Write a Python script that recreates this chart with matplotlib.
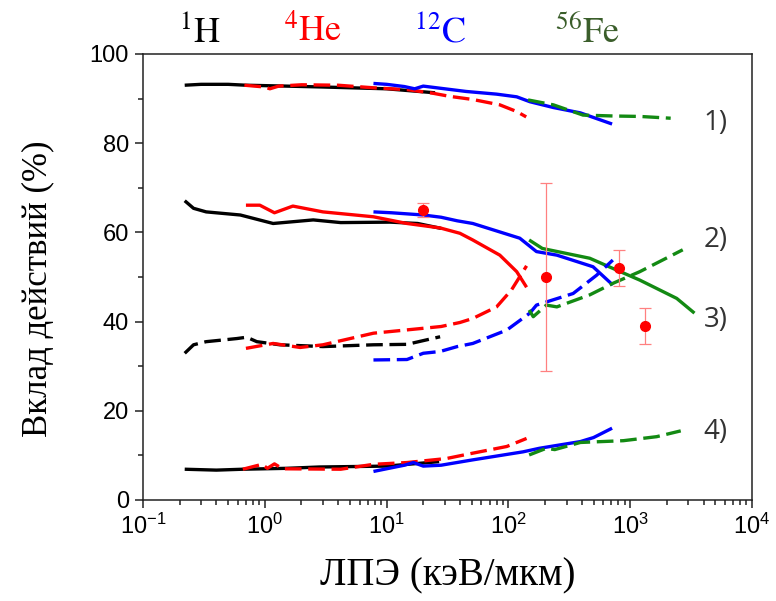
import matplotlib
matplotlib.use("Agg")
import matplotlib.pyplot as plt
from matplotlib.ticker import MultipleLocator, LogLocator, NullFormatter

plt.rcParams['font.family'] = ['Liberation Sans', 'DejaVu Sans']
plt.rcParams['mathtext.fontset'] = 'custom'
plt.rcParams['mathtext.rm'] = 'Liberation Sans'
plt.rcParams['mathtext.it'] = 'Liberation Sans:italic'
plt.rcParams['mathtext.bf'] = 'Liberation Sans:bold'

# ---- data (LET in keV/um, contribution in %) ----
# 1) curves
h1_x = [0.22, 0.3, 0.5, 0.7, 1.5, 3, 10, 25]
h1_y = [93.0, 93.2, 93.2, 93.0, 92.8, 92.6, 92.2, 91.3]
he1_x = [0.68, 1.0, 1.1, 1.3, 2, 4, 8, 15, 24, 33, 51, 85, 117, 140]
he1_y = [93.0, 92.6, 92.2, 92.8, 93.1, 93.0, 92.4, 92.0, 91.2, 90.5, 89.8, 88.6, 87.1, 85.9]
c1_x = [7.8, 10, 14, 17, 20, 28, 45, 80, 117, 150, 234, 390, 710]
c1_y = [93.4, 93.2, 92.7, 92.2, 92.8, 92.3, 91.6, 91.0, 90.4, 89.3, 88.0, 86.8, 84.3]
fe1_x = [145, 234, 410, 730, 1200, 2150]
fe1_y = [89.7, 88.6, 86.3, 86.1, 86.0, 85.6]

# 2) curves
h2_x = [0.22, 0.26, 0.33, 0.63, 1.17, 2.5, 4.2, 10.7, 18, 28]
h2_y = [67.1, 65.4, 64.6, 63.9, 62.0, 62.8, 62.2, 62.3, 62.0, 60.9]
he2_x = [0.70, 0.91, 1.2, 1.7, 3.0, 7.8, 14.7, 27.5, 40, 51, 85, 117, 141]
he2_y = [66.1, 66.1, 64.4, 65.9, 64.6, 63.5, 62.0, 61.0, 59.8, 58.3, 54.9, 51.2, 47.7]
c2_x = [7.8, 11, 20, 28, 38, 51, 124, 170, 250, 495, 720]
c2_y = [64.6, 64.4, 63.9, 63.4, 62.6, 62.0, 58.7, 55.7, 54.9, 52.3, 48.2]
fe2_x = [148, 190, 466, 724, 1200, 2410, 3370]
fe2_y = [58.3, 56.4, 54.2, 51.9, 49.3, 45.2, 41.9]

# 3) curves
h3_x = [0.22, 0.26, 0.33, 0.59, 0.71, 0.86, 1.33, 3.0, 7.8, 14.7, 27.5]
h3_y = [32.9, 34.8, 35.5, 36.2, 36.5, 35.5, 34.8, 34.4, 34.8, 34.9, 36.6]
he3_x = [0.70, 1.17, 1.95, 3.0, 7.8, 20, 28, 40, 51, 80, 106, 141]
he3_y = [34.0, 35.1, 34.2, 34.8, 37.4, 38.5, 38.9, 39.8, 40.7, 43.3, 47.1, 52.5]
c3_x = [7.8, 14.7, 20, 27.5, 38, 51, 97, 150, 170, 340, 530, 720]
c3_y = [31.4, 31.5, 32.9, 33.3, 34.4, 35.1, 38.1, 41.9, 43.7, 46.3, 50.4, 53.8]
fe3_x = [148, 160, 205, 250, 466, 724, 1200, 2700]
fe3_y = [42.6, 41.1, 43.7, 43.3, 46.0, 48.6, 51.2, 56.1]

# 4) curves
h4_x = [0.22, 0.4, 0.66, 1.5, 2.8, 10, 27]
h4_y = [6.9, 6.7, 6.9, 7.1, 7.4, 7.6, 8.6]
he4_x = [0.66, 0.95, 1.05, 1.2, 1.4, 4.2, 7.8, 14.7, 31, 51, 97, 141]
he4_y = [6.9, 8.0, 7.1, 8.1, 7.0, 6.9, 8.0, 8.4, 9.3, 10.5, 12.0, 13.8]
c4_x = [7.8, 10, 14, 16.6, 20, 28, 51, 132, 180, 390, 500, 710]
c4_y = [6.4, 7.0, 7.8, 8.4, 7.6, 7.8, 9.0, 10.8, 11.6, 13.1, 14.0, 16.1]
fe4_x = [148, 205, 240, 390, 880, 1650, 2600]
fe4_y = [10.1, 11.6, 11.3, 12.9, 13.3, 14.2, 15.5]

# experimental points
exp_x = [20, 203, 815, 1320]
exp_y = [65.0, 50.0, 52.0, 39.0]
exp_err = [1.6, 21.0, 4.0, 4.0]

ion_labels = [r'$^{1}\mathrm{H}$', r'$^{4}\mathrm{He}$', r'$^{12}\mathrm{C}$', r'$^{56}\mathrm{Fe}$']
ion_label_x = [200, 313, 440, 587]
ion_colors = ['black', '#ff0000', '#0000ff', '#3b5e2b']
group_labels = ['1)', '2)', '3)', '4)']
group_label_y = [84.5, 58.3, 40.4, 15.2]

# ---- figure ----
fig = plt.figure(figsize=(7.76, 6.01), dpi=100)
ax = fig.add_axes([143/776, 1-500/601, (752-143)/776, (500-54)/601])

K, R, B, G = 'black', '#ff0000', '#0000ff', '#138a13'
lw = 2.4
dash = (5, 2)

def solid(x, y, c):
    ax.plot(x, y, color=c, lw=lw, solid_capstyle='butt')

def dashed(x, y, c):
    ax.plot(x, y, color=c, lw=lw, linestyle=(0, dash), dash_capstyle='butt')

# group 1
solid(h1_x, h1_y, K)
dashed(he1_x, he1_y, R)
solid(c1_x, c1_y, B)
dashed(fe1_x, fe1_y, G)
# group 2
solid(h2_x, h2_y, K)
solid(he2_x, he2_y, R)
solid(c2_x, c2_y, B)
solid(fe2_x, fe2_y, G)
# group 3
dashed(h3_x, h3_y, K)
dashed(he3_x, he3_y, R)
dashed(c3_x, c3_y, B)
dashed(fe3_x, fe3_y, G)
# group 4
solid(h4_x, h4_y, K)
dashed(he4_x, he4_y, R)
solid(c4_x, c4_y, B)
dashed(fe4_x, fe4_y, G)

ax.errorbar(exp_x, exp_y, yerr=exp_err, fmt='o', color=R, markersize=7,
            ecolor='#ff8080', elinewidth=0.9, capsize=4, capthick=0.9, zorder=5)

ax.set_xscale('log')
ax.set_xlim(0.1, 1e4)
ax.set_ylim(0, 100)
ax.yaxis.set_major_locator(MultipleLocator(20))
ax.yaxis.set_minor_locator(MultipleLocator(10))
ax.xaxis.set_major_locator(LogLocator(base=10, numticks=10))
ax.xaxis.set_minor_locator(LogLocator(base=10, subs=range(2, 10), numticks=20))
ax.xaxis.set_minor_formatter(NullFormatter())

for s in ax.spines.values():
    s.set_linewidth(1.1)
    s.set_color('#222222')
ax.tick_params(which='both', direction='out', top=False, right=False, color='#222222', width=1.1)
ax.tick_params(which='major', length=6, labelsize=17, pad=4)
ax.tick_params(which='minor', length=3.5)

ax.set_ylabel('Вклад действий (%)', family=['Liberation Serif', 'DejaVu Serif'], fontsize=25)
ax.yaxis.set_label_coords(-0.145, (500-289)/446)
ax.set_xlabel('ЛПЭ (кэВ/мкм)', family=['Liberation Serif', 'DejaVu Serif'], fontsize=28, labelpad=13)

for lab, px, col in zip(ion_labels, ion_label_x, ion_colors):
    fig.text(px/776, 1-32/601, lab, color=col, fontsize=26, ha='center', va='center', math_fontfamily='stix')

for lab, yv in zip(group_labels, group_label_y):
    ax.text(5000, yv, lab, color='#333333', fontsize=20, ha='center', va='center',
            family=['Open Sans', 'DejaVu Sans'])

fig.savefig('out.png', dpi=100)
